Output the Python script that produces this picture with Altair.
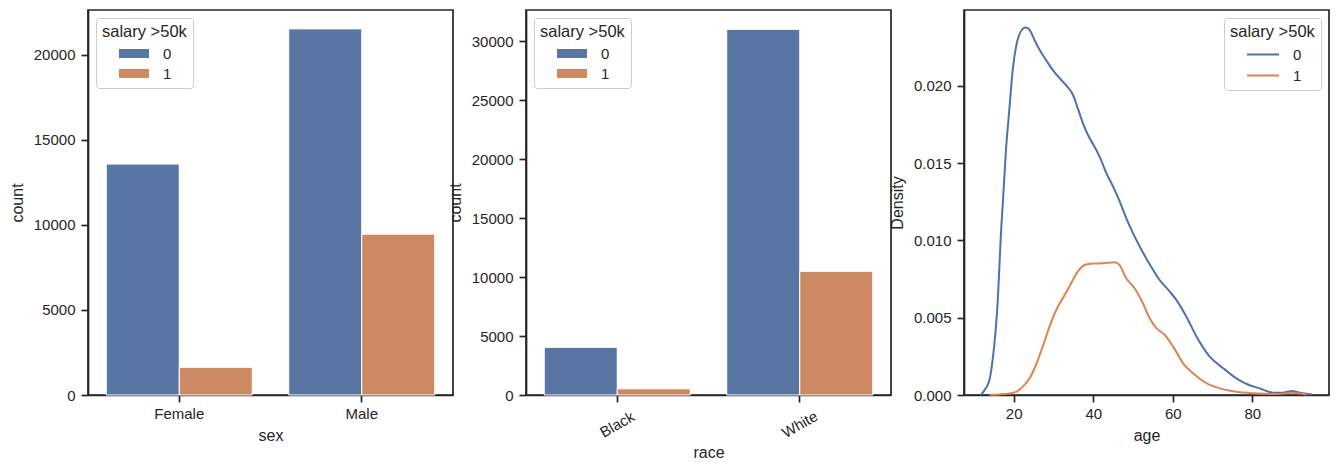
import altair as alt
import pandas as pd

# ---- data ----
sex_categories = ["Female", "Male"]
sex_salary0 = [13569, 21510]
sex_salary1 = [1627, 9451]

race_categories = ["Black", "White"]
race_salary0 = [4040, 30989]
race_salary1 = [520, 10480]

salary_levels = ["0", "1"]

age_0 = [11.7, 13.0, 13.9, 14.7, 15.4, 16.0, 16.4, 16.8, 17.3, 18.06, 18.9, 19.75, 20.6, 21.4,
         22.3, 23.1, 24.0, 25.2, 26.5, 28.1, 29.8, 31.9, 33.6, 34.9, 36.1, 37.4, 38.65, 40.3,
         41.6, 43.3, 45.0, 46.6, 48.3, 50.0, 51.7, 53.3, 55.0, 56.7, 59.25, 60.9, 63.4, 66.0,
         69.3, 72.7, 76.0, 78.6, 81.9, 85.3, 87.8, 89.9, 92.0, 95.0]
density_0 = [0.0, 0.00045, 0.00097, 0.00227, 0.0040, 0.00615, 0.0083, 0.01047, 0.01255, 0.01586,
             0.01845, 0.02103, 0.02254, 0.0233, 0.02369, 0.02377, 0.02362, 0.02298, 0.02233,
             0.02168, 0.02103, 0.02039, 0.01991, 0.01942, 0.01855, 0.01758, 0.01683, 0.01607,
             0.01542, 0.01435, 0.01348, 0.01256, 0.01144, 0.01047, 0.0096, 0.00885, 0.00812,
             0.00744, 0.00669, 0.00615, 0.00507, 0.00377, 0.00248, 0.00173, 0.00108, 0.00071,
             0.00043, 0.00015, 0.00015, 0.00026, 0.00015, 0.00003]

age_1 = [13.9, 16.5, 18.9, 20.6, 22.3, 24.0, 25.6, 27.3, 29.0, 30.7, 32.35, 34.0, 36.1, 37.8,
         39.9, 42.4, 45.4, 46.6, 48.3, 50.4, 52.5, 54.2, 55.9, 58.0, 60.1, 62.6, 65.1, 68.5,
         71.85, 76.0, 80.25, 86.1, 89.9, 93.7]
density_1 = [0.00002, 0.00004, 0.0001, 0.0002, 0.00054, 0.00108, 0.00194, 0.00313, 0.00442,
             0.0055, 0.00626, 0.00701, 0.00798, 0.00841, 0.0085, 0.00852, 0.00859, 0.00841,
             0.00755, 0.0069, 0.00593, 0.00496, 0.00432, 0.00388, 0.00313, 0.00205, 0.0014,
             0.00076, 0.00043, 0.00021, 0.00011, 0.00006, 0.00015, 0.00003]

# ---- tables ----
df_sex = pd.DataFrame({
    "sex": sex_categories * 2,
    "salary >50k": [salary_levels[0]] * 2 + [salary_levels[1]] * 2,
    "count": sex_salary0 + sex_salary1,
})
df_race = pd.DataFrame({
    "race": race_categories * 2,
    "salary >50k": [salary_levels[0]] * 2 + [salary_levels[1]] * 2,
    "count": race_salary0 + race_salary1,
})
df_kde = pd.DataFrame({
    "age": age_0 + age_1,
    "Density": density_0 + density_1,
    "salary >50k": [salary_levels[0]] * len(age_0) + [salary_levels[1]] * len(age_1),
})

FONT = "Liberation Sans"
TXT = "#262626"
W, H = 365, 385

bar_colors = ["#5975a4", "#cc8963"]
line_colors = ["#4c72b0", "#dd8452"]


def legend(orient, symbol, line=False):
    kw = dict(
        title="salary >50k", orient=orient, offset=8, fillColor="white",
        strokeColor="#cccccc", cornerRadius=3, padding=6,
        titleFontSize=16.5, titleFontWeight="normal", titleColor=TXT, titleFont=FONT,
        labelFontSize=15, labelColor=TXT, labelFont=FONT,
        symbolType=symbol, symbolSize=400, symbolOffset=22, labelOffset=19,
        rowPadding=2, titlePadding=3, symbolOpacity=1,
    )
    if line:
        kw["symbolStrokeWidth"] = 2
    else:
        kw["symbolStrokeWidth"] = 0
    return alt.Legend(**kw)


bar_symbol = "M-1.5,-0.45L1.5,-0.45L1.5,0.45L-1.5,0.45Z"
line_symbol = "M-1.6,0L1.6,0"

p1 = alt.Chart(df_sex).mark_bar(stroke="white", strokeWidth=1).encode(
    x=alt.X("sex:N", scale=alt.Scale(paddingInner=0.2, paddingOuter=0.1),
            axis=alt.Axis(labelAngle=0, labelPadding=4, titlePadding=6)),
    xOffset=alt.XOffset("salary >50k:N", scale=alt.Scale(paddingInner=0, paddingOuter=0)),
    y=alt.Y("count:Q", scale=alt.Scale(domain=[0, 22620], nice=False, zero=True),
            axis=alt.Axis(values=[0, 5000, 10000, 15000, 20000], format="d", titlePadding=8)),
    color=alt.Color("salary >50k:N", scale=alt.Scale(domain=salary_levels, range=bar_colors),
                    legend=legend("top-left", bar_symbol)),
).properties(width=W, height=H)

p2 = alt.Chart(df_race).mark_bar(stroke="white", strokeWidth=1).encode(
    x=alt.X("race:N", scale=alt.Scale(paddingInner=0.2, paddingOuter=0.1),
            axis=alt.Axis(labelAngle=330, labelAlign="center", labelBaseline="middle",
                          labelPadding=22, titlePadding=4)),
    xOffset=alt.XOffset("salary >50k:N", scale=alt.Scale(paddingInner=0, paddingOuter=0)),
    y=alt.Y("count:Q", scale=alt.Scale(domain=[0, 32630], nice=False, zero=True),
            axis=alt.Axis(values=[0, 5000, 10000, 15000, 20000, 25000, 30000], format="d",
                          titlePadding=8)),
    color=alt.Color("salary >50k:N", scale=alt.Scale(domain=salary_levels, range=bar_colors),
                    legend=legend("top-left", bar_symbol)),
).properties(width=W, height=H)

p3 = alt.Chart(df_kde).mark_line(strokeWidth=2, interpolate="monotone").encode(
    x=alt.X("age:Q", scale=alt.Scale(domain=[7.5, 99.3], nice=False, zero=False),
            axis=alt.Axis(values=[20, 40, 60, 80], labelPadding=4, titlePadding=6)),
    y=alt.Y("Density:Q", scale=alt.Scale(domain=[0, 0.0249], nice=False),
            axis=alt.Axis(values=[0, 0.005, 0.01, 0.015, 0.02], format=".3f", titlePadding=8)),
    color=alt.Color("salary >50k:N", scale=alt.Scale(domain=salary_levels, range=line_colors),
                    legend=legend("top-right", line_symbol, line=True)),
).properties(width=W, height=H)

chart = alt.hconcat(p1, p2, p3, spacing=73, bounds="flush").resolve_scale(
    color="independent", x="independent", y="independent"
).resolve_legend(color="independent").properties(
    padding={"left": 8, "top": 9, "right": 5, "bottom": 5}
).configure(font=FONT).configure_view(
    stroke=TXT, strokeWidth=1.7
).configure_axis(
    grid=False, tickSize=7, tickWidth=1.7, tickColor=TXT, domainColor=TXT, domainWidth=1.7,
    labelFontSize=15, labelColor=TXT, labelFont=FONT, labelPadding=6,
    titleFontSize=16, titleFontWeight="normal", titleColor=TXT, titleFont=FONT,
)

chart.save("out.html", embed_options={"renderer": "svg", "actions": False})
